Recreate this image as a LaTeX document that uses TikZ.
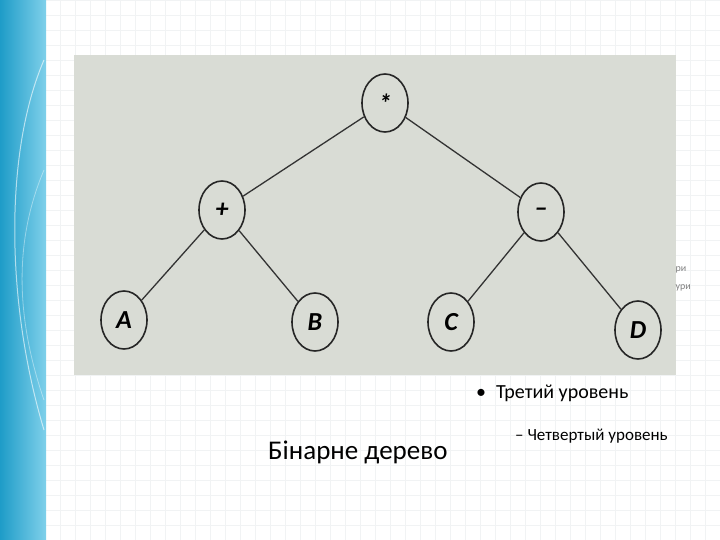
\documentclass[tikz,border=0pt]{standalone}
\usepackage{fontspec}
\setmainfont{Carlito}
\usetikzlibrary{shapes.geometric}
\definecolor{panel}{HTML}{D9DCD5}
\definecolor{barA}{HTML}{1E9CC8}
\definecolor{barB}{HTML}{7FD0EA}
\definecolor{gridc}{HTML}{F1F3F4}
\tikzset{
  tn/.style={ellipse,draw=black!85,line width=1.6pt,fill=panel,minimum width=46pt,minimum height=58pt,inner sep=0pt,font=\bfseries\itshape\fontsize{26}{26}\selectfont},
  edge/.style={draw=black!80,line width=1.3pt}
}
\begin{document}
\begin{tikzpicture}[x=1pt,y=-1pt]
\useasboundingbox (0,0) rectangle (720,540);
\fill[white] (0,0) rectangle (720,540);
\draw[gridc,step=15pt] (45,0) grid (720,540);
\shade[left color=barA,right color=barB] (0,0) rectangle (46,540);
\draw[white,opacity=0.6,line width=1pt] (44,60) .. controls (5,150) and (5,300) .. (44,430);
\draw[white,opacity=0.4,line width=0.8pt] (44,170) .. controls (10,250) and (20,330) .. (44,400);
\fill[panel] (74,55) rectangle (676,375);
\node[tn] (m) at (385,103) {*};
\node[tn] (p) at (222,210) {+};
\node[tn] (s) at (541,212) {--};
\node[tn] (a) at (124,320) {A};
\node[tn] (b) at (315,322) {B};
\node[tn] (c) at (451,322) {C};
\node[tn] (d) at (638,330) {D};
\draw[edge] (m) -- (p);
\draw[edge] (m) -- (s);
\draw[edge] (p) -- (a);
\draw[edge] (p) -- (b);
\draw[edge] (s) -- (c);
\draw[edge] (s) -- (d);
\node[anchor=west,text=black!50,font=\fontsize{10}{10}\selectfont] (r1) at (672,270) {ри};
\node[anchor=west,text=black!50,font=\fontsize{10}{10}\selectfont] (r2) at (672,288) {ури};
\node[anchor=west,font=\fontsize{20}{20}\selectfont,inner sep=0pt] (l3) at (476,393) {•\hspace{10pt}Третий уровень};
\node[anchor=west,font=\fontsize{17}{17}\selectfont,inner sep=0pt] (l4) at (515,436) {– Четвертый уровень};
\node[anchor=west,font=\fontsize{27}{27}\selectfont,inner sep=0pt] (t) at (268,452) {Бінарне дерево};
\end{tikzpicture}
\end{document}
